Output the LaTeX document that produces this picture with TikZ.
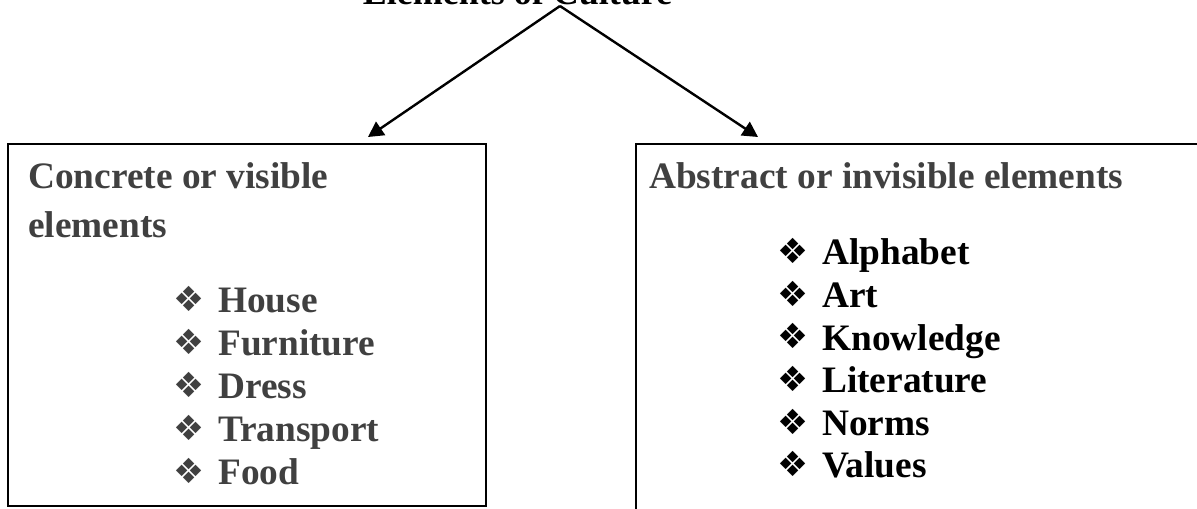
\documentclass[tikz,border=0pt]{standalone}
\usepackage{fontspec}
\setmainfont{Liberation Serif}
\newfontfamily\dingfont{DejaVu Sans}
\usepackage{tikz}
\usetikzlibrary{arrows.meta}

\definecolor{textgray}{RGB}{64,64,64}
\newcommand{\itm}{\makebox[33.75pt][l]{\raisebox{1pt}{\dingfont\fontsize{26}{26}\selectfont\char"2756}}}

\tikzset{
  box/.style={draw, line width=1.5pt, inner sep=0pt, anchor=north west},
  lbl/.style={anchor=base west, inner sep=0pt, font=\fontsize{28}{30}\selectfont\bfseries},
  link/.style={line width=1.8pt, -{Triangle[length=11.5pt,width=12pt]}}
}

\begin{document}
\begin{tikzpicture}[x=0.75pt,y=0.75pt,yscale=-1,xscale=1]
\useasboundingbox (0,0) rectangle (1197,509);

% Title
\node (title) [anchor=base, inner sep=0pt, font=\fontsize{27}{30}\selectfont\bfseries] at (517.5,4.5) {Elements of Culture};
\coordinate (apex) at (560,6);

% Boxes
\node (concrete) [box, minimum width=358.9pt, minimum height=271.1pt] at (6.5,143.5) {};
\node (abstract) [box, minimum width=431pt, minimum height=282.4pt] at (635,143.5) {};

% Arrow ends
\coordinate (lend) at (368,137);
\coordinate (rend) at (758,137);

%Straight Lines
\draw [link] (apex) -- (lend);
\draw [link] (apex) -- (rend);

% Text Node
\node (chead1) [lbl, textgray] at (28,189) {Concrete or visible};
% Text Node
\node (chead2) [lbl, textgray] at (28,238) {elements};
% Text Node
\node (house) [lbl, textgray] at (173,313) {\itm House};
% Text Node
\node (furniture) [lbl, textgray] at (173,356) {\itm Furniture};
% Text Node
\node (dress) [lbl, textgray] at (173,399) {\itm Dress};
% Text Node
\node (transport) [lbl, textgray] at (173,442) {\itm Transport};
% Text Node
\node (food) [lbl, textgray] at (173,485) {\itm Food};

% Text Node
\node (ahead) [lbl, textgray] at (649,189) {Abstract or invisible elements};
% Text Node
\node (alphabet) [lbl] at (777,265) {\itm Alphabet};
% Text Node
\node (art) [lbl] at (777,307.6) {\itm Art};
% Text Node
\node (knowledge) [lbl] at (777,350.2) {\itm Knowledge};
% Text Node
\node (literature) [lbl] at (777,392.8) {\itm Literature};
% Text Node
\node (norms) [lbl] at (777,435.4) {\itm Norms};
% Text Node
\node (values) [lbl] at (777,478) {\itm Values};

\end{tikzpicture}
\end{document}
